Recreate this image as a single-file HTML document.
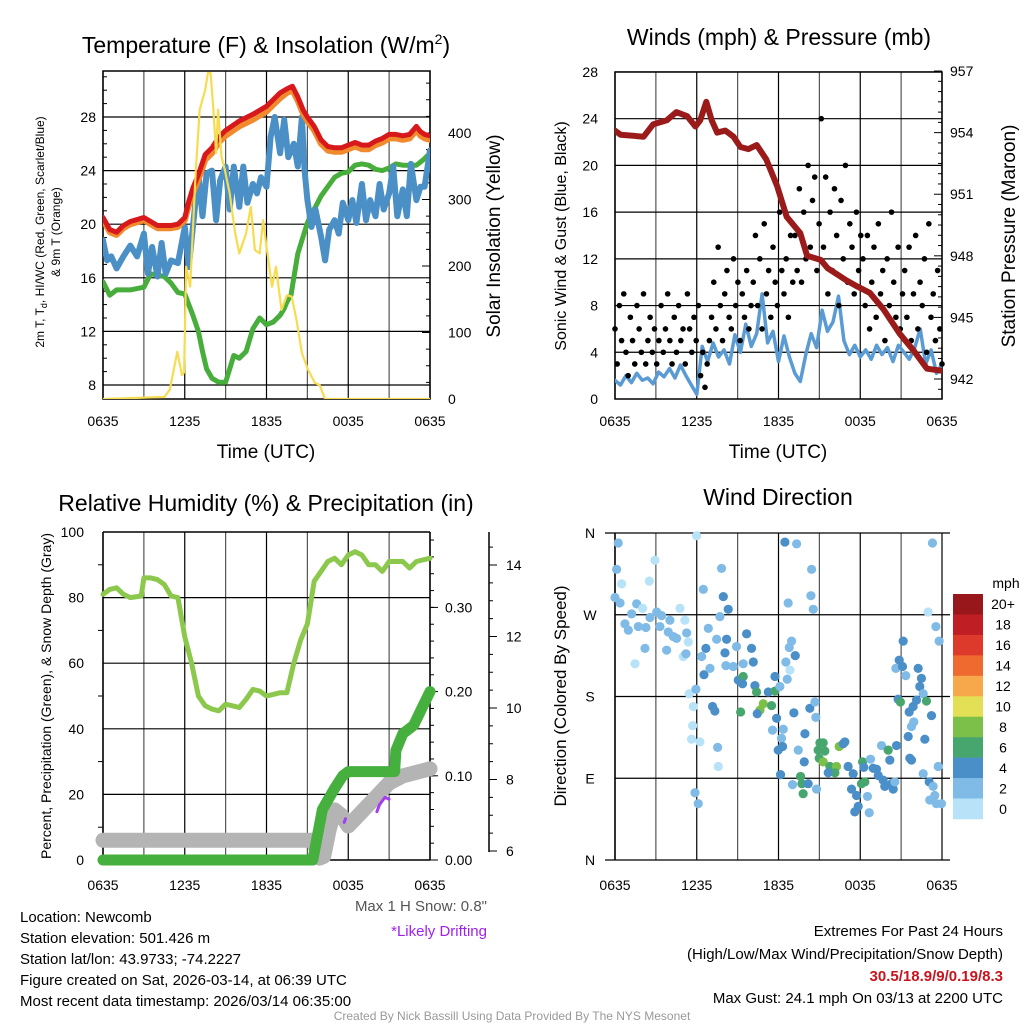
<!DOCTYPE html>
<html><head><meta charset="utf-8"><style>
html,body{margin:0;padding:0;background:#fff}
svg{display:block;font-family:"Liberation Sans",sans-serif}
</style></head><body>
<svg id="chart" width="1024" height="1024" viewBox="0 0 1024 1024" xmlns="http://www.w3.org/2000/svg">
<rect x="0" y="0" width="1024" height="1024" fill="#fff"/>
<defs>
<clipPath id="c1"><rect x="103" y="71" width="327" height="328"/></clipPath>
<clipPath id="c2"><rect x="615" y="72" width="327" height="327"/></clipPath>
<clipPath id="c3"><rect x="90" y="532" width="400" height="335"/></clipPath>
</defs>
<g id="g1"></g>
<g id="g2"></g>
<g id="g3"></g>
<g id="g4"></g>
<g font-size="23" text-anchor="middle" fill="#000">
<text x="266" y="53">Temperature (F) &amp; Insolation (W/m<tspan font-size="14" dy="-9">2</tspan><tspan dy="9">)</tspan></text>
<text x="779" y="45">Winds (mph) &amp; Pressure (mb)</text>
<text x="266" y="511">Relative Humidity (%) &amp; Precipitation (in)</text>
<text x="778" y="505">Wind Direction</text>
</g>
<g font-size="19" text-anchor="middle">
<text x="266" y="458">Time (UTC)</text>
<text x="778" y="458">Time (UTC)</text>
<text transform="translate(500,236) rotate(-90)">Solar Insolation (Yellow)</text>
<text transform="translate(1015,236) rotate(-90)">Station Pressure (Maroon)</text>
</g>
<g font-size="12" text-anchor="middle">
<text transform="translate(44,232) rotate(-90)">2m T, T<tspan font-size="9" dy="3">d</tspan><tspan dy="-3">, HI/WC (Red, Green, Scarlet/Blue)</tspan></text>
<text transform="translate(60,232) rotate(-90)">&amp; 9m T (Orange)</text>
</g>
<text transform="translate(566,236) rotate(-90)" font-size="16" text-anchor="middle">Sonic Wind &amp; Gust (Blue, Black)</text>
<text transform="translate(51,696) rotate(-90)" font-size="14" text-anchor="middle">Percent, Precipitation (Green), &amp; Snow Depth (Gray)</text>
<text transform="translate(566,696) rotate(-90)" font-size="17" text-anchor="middle">Direction (Colored By Speed)</text>
<text x="487" y="911" font-size="15" text-anchor="end" fill="#555">Max 1 H Snow: 0.8"</text>
<text x="487" y="936" font-size="15" text-anchor="end" fill="#a020f0">*Likely Drifting</text>
<g font-size="15" fill="#000">
<text x="20" y="922">Location: Newcomb</text>
<text x="20" y="943">Station elevation: 501.426 m</text>
<text x="20" y="964">Station lat/lon: 43.9733; -74.2227</text>
<text x="20" y="985">Figure created on Sat, 2026-03-14, at 06:39 UTC</text>
<text x="20" y="1006">Most recent data timestamp: 2026/03/14 06:35:00</text>
</g>
<g font-size="15" text-anchor="end">
<text x="1003" y="936">Extremes For Past 24 Hours</text>
<text x="1003" y="959">(High/Low/Max Wind/Precipitation/Snow Depth)</text>
<text x="1003" y="981" fill="#c8141e" font-weight="bold">30.5/18.9/9/0.19/8.3</text>
<text x="1003" y="1003">Max Gust: 24.1 mph On 03/13 at 2200 UTC</text>
</g>
<text x="512" y="1020" font-size="12" fill="#999" text-anchor="middle">Created By Nick Bassill Using Data Provided By The NYS Mesonet</text>
</svg>
<script>
// ---------- DATA ----------
const timeTickLabels=["0635","1235","1835","0035","0635"];
const tempTicks=[8,12,16,20,24,28];
const solarTicks=[0,100,200,300,400];
const redT=[0,0.5,1,1.5,2,3,4,5,5.5,6,6.3,6.6,7,7.5,8,8.5,9,10,11,11.5,12,12.5,13,13.5,13.9,14.3,14.7,15,15.5,16,16.5,17,17.5,18,18.5,19,19.5,20,20.5,21,21.5,22,22.5,23,23.3,23.6,24];
const redV=[20.5,19.6,19.4,19.9,20.2,20.5,19.9,19.9,20.0,20.5,21.7,22.7,23.7,25.2,25.7,26.5,27.0,27.7,28.2,28.5,28.8,29.3,29.8,30.1,30.3,29.5,28.5,28.0,27.3,26.3,25.8,25.7,25.7,25.9,26.1,25.9,25.9,26.2,26.4,26.7,26.7,26.6,26.7,27.3,26.9,26.7,26.6];
const orangeV=[20.3,19.4,19.2,19.7,20.0,20.3,19.7,19.7,19.8,20.3,21.4,22.3,23.3,24.8,25.3,26.1,26.6,27.3,27.8,28.1,28.4,28.9,29.4,29.8,30.0,29.2,28.2,27.7,27.0,26.0,25.5,25.4,25.4,25.6,25.8,25.6,25.6,25.9,26.1,26.4,26.4,26.3,26.4,27.0,26.6,26.4,26.3];
const dewT=[0,0.5,1,1.5,2,3,3.5,4,4.5,5,5.5,6,6.3,6.6,7,7.3,7.6,8,8.5,9,9.3,9.6,10,10.5,11,11.5,12,12.5,13,13.3,13.5,13.8,14,14.3,14.6,15,15.3,15.6,16,16.5,17,17.5,18,18.5,19,19.5,20,20.5,21,21.5,22,22.5,23,23.5,24];
const dewV=[15.7,14.7,15.1,15.1,15.1,15.3,16.3,16.2,16.1,15.6,14.9,14.8,14.0,13.2,12.0,10.5,9.2,8.5,8.2,8.2,9.2,10.2,10.0,10.5,12.2,13.0,12.5,12.7,13.2,13.7,14.2,14.7,16.0,17.8,18.8,20.1,20.8,21.3,22.1,22.8,23.5,23.8,23.9,24.4,24.5,24.4,24.1,24.0,24.2,24.5,24.4,24.4,24.4,24.8,25.3];
const hiT=[0,.3,.6,1,1.5,2,2.5,3,3.3,3.6,4,4.3,4.6,5,5.5,6,6.3,6.6,7,7.3,7.6,8,8.3,8.6,9,9.3,9.6,10,10.3,10.6,11,11.3,11.6,12,12.3,12.6,13,13.3,13.6,14,14.3,14.6,14.8,15,15.3,15.6,16,16.3,16.6,17,17.3,17.6,18,18.3,18.6,19,19.3,19.6,20,20.3,20.6,21,21.3,21.6,22,22.3,22.6,23,23.3,23.6,24];
const hiV=[18.8,17.3,17.6,16.7,17.6,18.4,17.6,19.3,16.3,18.3,16.1,18.6,16.3,17.3,17.1,19.8,16.8,19.8,23.8,20.6,23.8,24.0,20.3,23.3,24.3,21.1,24.3,21.3,24.3,21.6,23.0,22.3,23.5,22.8,26.5,28.0,25.3,27.8,25.0,26.0,24.3,28.0,24.0,21.8,19.8,21.1,19.1,17.3,19.6,20.3,19.3,21.6,20.3,21.8,20.1,23.0,20.3,21.8,20.6,23.0,21.1,22.3,24.3,20.6,22.6,20.6,24.5,21.8,22.8,22.8,25.5];
const solarT=[0,4.5,4.9,5.45,5.8,5.95,6.1,6.4,6.8,7.1,7.5,7.7,7.9,8.1,8.3,8.45,8.7,8.95,9.3,9.7,10.0,10.5,10.85,11.15,11.5,11.75,12.0,12.4,12.7,13.1,13.5,13.85,14.2,14.6,15.05,15.55,15.9,16.3,24];
const solarV=[0,3,14,71,36,40,199,169,339,435,465,490,490,435,370,435,364,344,309,249,219,249,289,224,219,269,229,169,199,134,156,154,119,69,44,24,21,0,0];

const windTicks=[0,4,8,12,16,20,24,28];
const presTicks=[942,945,948,951,954,957];
const windStep=0.4; // hours between sonic wind samples
const windV=[1.6,1.2,2.0,1.4,2.2,1.6,1.8,1.3,2.3,1.9,2.6,1.8,2.9,2.0,1.2,0.4,4.5,3.2,4.8,3.6,4.2,3.0,5.5,4.0,6.4,4.5,5.6,9.0,4.8,5.8,3.2,5.4,3.6,2.2,1.5,3.8,5.6,4.4,7.6,5.8,6.6,8.8,5.0,3.8,4.6,3.6,4.2,3.4,4.6,3.8,4.4,3.2,4.6,4.0,3.4,4.4,6.0,3.0,4.2,2.2,3.0];
const gustV=[6,3,8,5,9,4,2,7,5,3,8,6,4,9,3,5,7,4,6,
3,5,8,4,6,9,5,3,7,4,8,5,6,3,9,6,4,7,5,
8,2,4,1,3,5,
7,10,6,13,8,5,9,11,7,6,12,8,10,5,9,7,11,6,8,
10,14,8,12,6,15,9,11,7,13,10,8,16,11,9,12,7,14,10,
14,11,18,10,16,12,20,13,17,19,11,15,
24,13,19,9,16,11,18,14,8,17,12,20,10,15,13,9,16,11,14,
12,8,14,6,10,13,7,15,9,11,5,12,8,16,10,7,13,6,9,
11,7,13,5,9,14,6,10,8,12,4,15,7,9,5,11,6,3];
const presT=[0,0.4,2.1,2.8,3.8,4.5,5.3,5.9,6.25,6.7,7.1,7.5,8.1,8.7,9.2,9.8,10.4,11.1,11.9,12.6,13.6,14.1,15.1,15.6,17,17.8,18.7,19.7,20.9,21.9,22.9,24];
const presV=[954.1,953.9,953.8,954.4,954.6,955.0,954.8,954.3,954.6,955.5,954.6,954.0,954.1,953.8,953.3,953.2,953.4,952.7,951.4,949.9,949.1,948.0,947.8,947.4,946.8,946.5,946.2,945.4,944.2,943.4,942.5,942.4];

const rhTicks=[0,20,40,60,80,100];
const precipTicks=["0.00","0.10","0.20","0.30"];
const snowTicks=[6,8,10,12,14];
const rhT=[0,0.5,1,1.5,2,2.8,3,3.5,4,4.5,5,5.5,6,6.5,7,7.5,8,8.5,9,9.5,10,10.5,11,11.5,12,12.5,13,13.5,14,14.5,15,15.5,16,16.5,17,17.5,18,18.5,19,19.5,20,20.5,21,22,22.5,23,24];
const rhV=[81,82.5,83,81,80,80.5,86,86,85.5,84,80.5,80,68,60,50,47,46,45.5,47.5,47,46.5,49,52,51.5,50,50.5,51,51,60,67,72,85,88,91,92,90,93,94,93,90,90,88,91,91,89,91,92];
const precipT=[0,15.4,16.1,17,17.6,18,21.4,21.5,22,22.8,23.4,24];
const precipV=[0,0,0.06,0.085,0.1,0.105,0.105,0.13,0.15,0.16,0.18,0.2];
const snowT=[0,15.4,15.9,16.2,16.6,17,17.5,18,18.5,19,19.5,20,21,22,23,24];
const snowV=[6.3,6.3,5.8,5.85,6.6,7.15,7.0,6.7,6.9,7.1,7.3,7.5,7.9,8.1,8.2,8.3];
const driftT1=[17.7,17.8], driftV1=[6.8,6.9];
const driftT2=[20.1,20.3,20.7,21.0], driftV2=[7.1,7.3,7.5,7.45];

const dirLabels=["N","E","S","W","N"];
const speedBins=["0","2","4","6","8","10","12","14","16","18","20+"];
const speedColors=["#b7e2f7","#7fbbe6","#4a8fc8","#47a66d","#7cc04a","#e3e055","#f6a84a","#ef6a2f","#dd3a2b","#bf1e24","#97171b"];
const dirT=[0.24,0.12,2.93,2.52,0.49,0,0.37,1.59,2.03,1.22,0.73,0.98,1.71,2.27,2.57,3.06,3.42,3.3,4.03,3.91,4.28,4.52,3.79,4.77,5.13,5.26,5.38,5.01,5.21,2.2,1.47,5.99,6.48,7.95,8.31,7.82,7.7,6.85,6.67,7.46,8.19,8.07,6.36,8.92,9.66,10.02,10.15,8.14,8.68,9.41,6.53,6.97,9.05,9.41,9.36,10.27,10.39,11.25,11.74,10.88,10.64,11.49,10.44,9.22,7.16,7.33,5.45,5.94,5.75,5.7,5.62,6.23,7.53,7.58,5.87,6.11,11.74,12.1,12.47,13.33,12.71,14.43,14.38,14.55,12.96,12.79,13.23,12.54,12.84,12.64,13.13,11.86,11.56,12.35,12.22,11.98,12.3,13.94,14.3,14.67,14.74,13.45,13.89,12.15,13.03,13.62,13.72,13.81,14.18,14.79,15.04,15.28,14.91,15.4,14.99,15.28,15.77,16.26,16.45,16.75,16.87,16.14,15.65,17.11,17.48,17.36,17.73,17.85,17.6,18.09,18.34,18.17,18.26,18.53,18.66,18.75,18.95,19.19,19.32,19.68,19.56,20.05,20.17,19.8,20.29,20.42,20.54,20.66,20.86,21.15,20.61,21.1,21.34,20.78,20.95,21.59,21.88,21.76,21.93,21.52,21.64,21.76,22.13,22.37,22.49,22.25,22.62,22.86,23.23,22.74,22.62,23.06,23.35,23.47,23.1,23.59,23.96,23.72,22.98,23.55,23.79,23.3];
const dirV=[349,320,330,307,304,289,283,282,277,271,260,253,257,256,267,273,269,257,264,251,246,244,231,277,264,250,240,224,227,233,216,357,298,290,276,321,268,255,233,243,243,228,224,235,249,233,218,214,213,216,204,211,198,202,194,192,185,185,186,172,165,170,161,163,169,164,183,188,169,148,133,130,124,103,74,62,202,191,350,348,283,320,291,276,241,234,225,218,209,199,162,156,143,144,134,121,125,139,167,174,157,121,108,94,83,92,84,73,84,78,129,129,121,120,112,108,103,103,125,128,130,96,96,103,95,78,71,59,53,84,86,108,102,70,52,111,101,100,93,88,126,121,110,81,84,78,86,126,220,241,211,213,203,177,174,163,169,147,152,136,112,110,176,191,200,211,183,175,159,133,95,86,81,71,66,62,62,103,273,257,241,349];
const dirS=[3,3,1,1,1,3,3,3,1,3,3,3,3,3,3,3,3,3,3,3,3,3,3,1,1,3,1,1,3,3,1,1,3,5,5,3,3,3,5,3,5,5,3,3,5,5,5,3,3,3,5,3,5,7,5,5,7,5,7,9,9,7,5,7,5,5,1,3,1,1,1,1,3,1,3,3,5,3,5,3,3,3,3,3,3,3,5,3,1,3,5,5,3,3,3,5,5,5,5,3,3,3,5,5,3,7,7,7,5,3,7,7,7,7,7,9,7,9,9,5,5,7,5,5,5,5,5,5,5,7,7,7,5,3,3,3,5,5,5,5,3,7,5,5,5,5,3,5,5,5,3,5,3,5,7,5,5,3,3,5,5,5,5,5,5,5,3,7,5,5,3,5,3,3,3,3,3,3,1,3,3,3];

// ---------- HELPERS ----------
const NS='http://www.w3.org/2000/svg';
function mk(tag,a,parent){const e=document.createElementNS(NS,tag);for(const k in a)e.setAttribute(k,a[k]);parent.appendChild(e);return e;}
function pts(ts,vs,xf,yf){return ts.map((t,i)=>xf(t).toFixed(1)+','+yf(vs[i]).toFixed(1)).join(' ');}
const g1=document.getElementById('g1'),g2=document.getElementById('g2'),g3=document.getElementById('g3'),g4=document.getElementById('g4');
const HPX=13.625;
function grid(g,x0,x1,y0,y1,ys,box){
  for(let h=0;h<=24;h+=3){const x=x0+h*HPX;const l=mk('line',{x1:x,x2:x,y1:y0,y2:y1,stroke:(h%6===0)?'#000':'#555','stroke-width':1.2},g);
    }
  ys.forEach(y=>{const l=mk('line',{x1:x0,x2:x1,y1:y,y2:y,stroke:'#000','stroke-width':1.2},g);
    });
  if(box){const r=mk('rect',{x:x0,y:y0,width:x1-x0,height:y1-y0,fill:'none',stroke:'#000','stroke-width':1.5},g);
    }
}
function xlabels(g,x0,y){timeTickLabels.forEach((s,i)=>{const t=mk('text',{x:x0+i*6*HPX,y:y,'font-size':14,'text-anchor':'middle'},g);t.textContent=s;
  });}
function label(g,x,y,s,anchor,size){const t=mk('text',{x:x,y:y,'font-size':size||14,'text-anchor':anchor},g);t.textContent=s;
  return t;}
function tick(g,x1,x2,y){const l=mk('line',{x1:x1,x2:x2,y1:y,y2:y,stroke:'#000','stroke-width':1},g);
  }
function line(g,ts,vs,xf,yf,color,w,name,clip){const p=mk('polyline',{points:pts(ts,vs,xf,yf),fill:'none',stroke:color,'stroke-width':w,'stroke-linejoin':'round','stroke-linecap':'round'},g);
  if(clip)p.setAttribute('clip-path','url(#'+clip+')');
  return p;}

// ---------- PANEL 1 ----------
const x1f=t=>103+t*HPX, yT=v=>385-(v-8)*13.4, yS=v=>399-v*0.665;
grid(g1,103,430,71,399,tempTicks.map(yT),true);
tempTicks.forEach(v=>label(g1,96,yT(v)+5,String(v),'end'));
solarTicks.forEach(v=>{label(g1,448,yS(v)+5,String(v),'start');tick(g1,430,422,yS(v));});
for(let v=25;v<500;v+=25){if(v%100)tick(g1,430,426,yS(v));}
for(let v=9;v<32;v+=1){if(v%4)tick(g1,103,107,yT(v));}
xlabels(g1,103,426);
line(g1,dewT,dewV,x1f,yT,'#47ad3b',5,'dewpoint-line','c1');
line(g1,hiT,hiV,x1f,yT,'#4a8fc6',6,'heat-index-line','c1');
line(g1,redT,orangeV,x1f,yT,'#f08a2c',6,'temp-9m-line','c1');
line(g1,redT,redV,x1f,yT,'#d7191c',5,'temp-2m-line','c1');
line(g1,solarT,solarV,x1f,yS,'#f7dc50',2.2,'solar-line','c1');

// ---------- PANEL 2 ----------
const x2f=t=>615+t*HPX, yW=v=>399-v*11.68, yP=v=>379-(v-942)*20.53;
grid(g2,615,942,72,399,windTicks.slice(1).map(yW),true);
windTicks.forEach(v=>label(g2,598,yW(v)+5,String(v),'end'));
presTicks.forEach(v=>{label(g2,950,yP(v)+5,String(v),'start');tick(g2,942,934,yP(v));});
for(let v=941.5;v<957;v+=0.5){if(Math.abs(v-Math.round(v/3)*3)>0.1)tick(g2,942,938,yP(v));}
xlabels(g2,615,426);
const windT=windV.map((v,i)=>i*windStep);
line(g2,windT,windV,x2f,yW,'#5a9bd4',3.5,'sonic-wind-line','c2');
gustV.forEach((v,i)=>{const t=i*24/(gustV.length-1);
  const c=mk('circle',{cx:x2f(t),cy:yW(v),r:2.8,fill:'#000'},g2);
  
  });
line(g2,presT,presV,x2f,yP,'#9b1b1b',6,'pressure-line','c2');

// ---------- PANEL 3 ----------
const x3f=t=>103+t*HPX, yR=v=>860-v*3.28, yPr=v=>860-v*842, ySn=v=>851-(v-6)*35.75;
grid(g3,103,430,532,860,[20,40,60,80].map(yR),false);
let ax=mk('line',{x1:103,x2:103,y1:532,y2:860,stroke:'#000','stroke-width':1.5},g3);
ax=mk('line',{x1:430,x2:430,y1:532,y2:860,stroke:'#000','stroke-width':1.5},g3);
ax=mk('line',{x1:103,x2:430,y1:532,y2:532,stroke:'#000','stroke-width':1.5},g3);
ax=mk('line',{x1:103,x2:430,y1:860,y2:860,stroke:'#000','stroke-width':1.5},g3);
ax=mk('line',{x1:489,x2:489,y1:532,y2:852,stroke:'#000','stroke-width':1.5},g3);
rhTicks.forEach(v=>label(g3,84,yR(v)+5,String(v),'end'));
precipTicks.forEach(s=>{const v=parseFloat(s);label(g3,445,yPr(v)+5,s,'start');tick(g3,430,438,yPr(v));});
for(let v=0.02;v<0.39;v+=0.02){tick(g3,430,434,yPr(v));}
snowTicks.forEach(v=>{label(g3,506,ySn(v)+5,String(v),'start');tick(g3,489,497,ySn(v));});
for(let v=6.5;v<15;v+=0.5){tick(g3,489,493,ySn(v));}
for(let v=10;v<100;v+=20){tick(g3,103,98,yR(v));}
xlabels(g3,103,890);
line(g3,rhT,rhV,x3f,yR,'#8cc84c',5,'humidity-line','c3');
line(g3,snowT,snowV,x3f,ySn,'#b4b4b4',15,'snow-depth-line','c3');
line(g3,precipT,precipV,x3f,yPr,'#45b03e',11,'precip-line','c3');
line(g3,driftT1,driftV1,x3f,ySn,'#a43ef0',3,'drifting-segment','c3');
line(g3,driftT2,driftV2,x3f,ySn,'#a43ef0',3,'drifting-segment','c3');

// ---------- PANEL 4 ----------
const x4f=t=>615+t*HPX, yD=v=>860-v*327/360;
grid(g4,615,950,533,860,[90,180,270].map(yD),false);
[0,360].forEach(v=>{const l=mk('line',{x1:605,x2:950,y1:yD(v),y2:yD(v),stroke:'#000','stroke-width':1.2},g4);});
ax=mk('line',{x1:615,x2:615,y1:533,y2:860,stroke:'#000','stroke-width':1.5},g4);
dirLabels.forEach((s,i)=>label(g4,590,yD(i*90)+5,s,'middle'));
xlabels(g4,615,890);
dirT.forEach((t,i)=>{const bin=Math.min(10,Math.floor(dirS[i]/2));
  const c=mk('circle',{cx:x4f(t),cy:yD(dirV[i]),r:4.6,fill:speedColors[bin]},g4);
  
  });
const bh=225/speedBins.length;
speedBins.forEach((s,i)=>{const k=speedBins.length-1-i;
  const r=mk('rect',{x:953,y:594+i*bh,width:30,height:bh+0.3,fill:speedColors[k]},g4);
  
  
  const t=mk('text',{x:1003,y:594+i*bh+bh/2+5,'font-size':14,'text-anchor':'middle'},g4);t.textContent=speedBins[k];
  
  });
const mu=mk('text',{x:1006,y:588,'font-size':14,'text-anchor':'middle'},g4);mu.textContent='mph';


</script>
</body></html>
